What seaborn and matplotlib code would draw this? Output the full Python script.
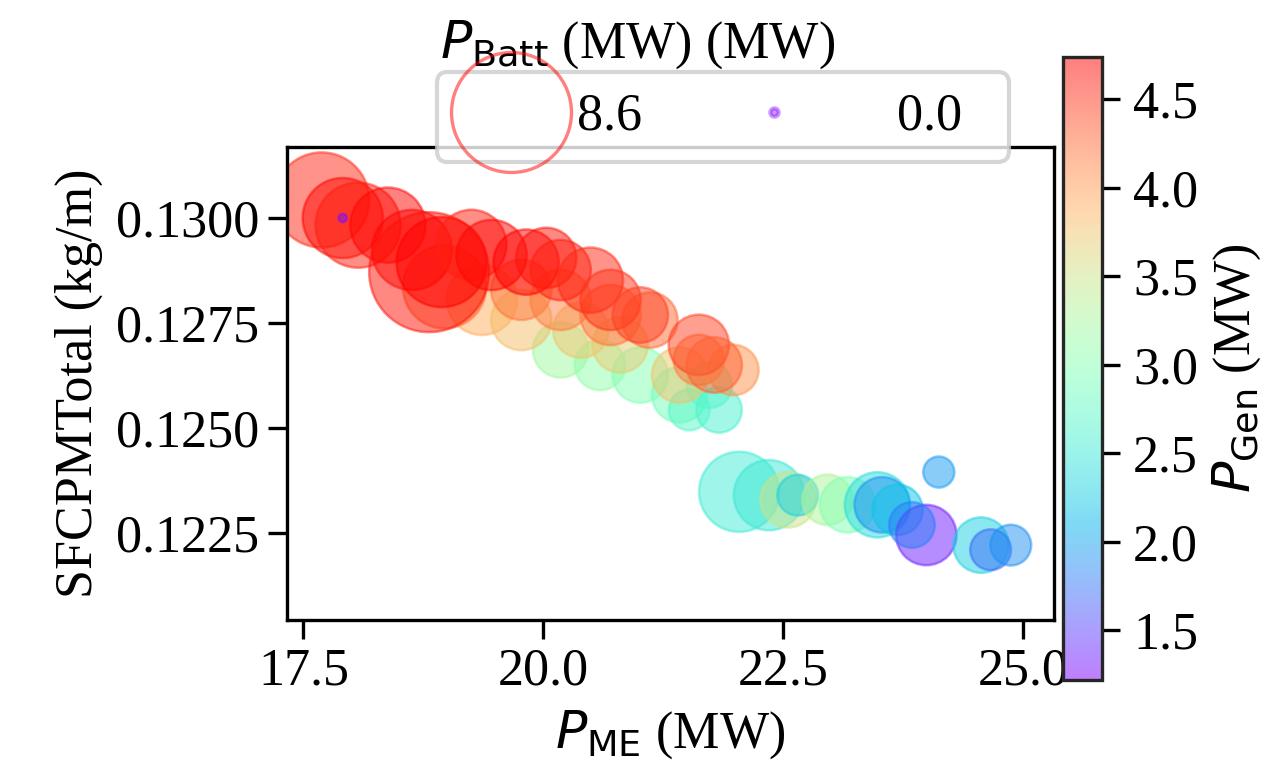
import numpy as np
import pandas as pd
import matplotlib
matplotlib.use("Agg")
import matplotlib.pyplot as plt
import seaborn as sns
from matplotlib.colors import Normalize
from matplotlib.cm import ScalarMappable
from matplotlib.lines import Line2D
from matplotlib.legend_handler import HandlerLine2D
from matplotlib.ticker import FormatStrFormatter, MultipleLocator

# main engine power (MW)
p_me = [
    22.04, 22.35, 22.55, 22.65, 22.96, 23.17, 23.48, 23.53, 23.69, 24.12,
    23.99, 23.84, 24.56, 24.66, 24.87,
    20.18, 20.59, 21.01, 21.42, 21.73, 21.83, 21.52,
    19.36, 19.77, 20.39, 20.80, 21.42,
    18.97, 19.77, 20.18, 20.70, 21.11, 21.62, 21.98,
    17.69, 17.91, 18.07, 18.38, 18.63, 18.81, 18.94, 19.25, 19.46, 19.82,
    20.03, 20.18, 20.49, 20.70, 21.01, 21.62, 21.78,
    17.91,
]
# fuel consumption per metre (kg/m)
sfc_total = [
    0.12348, 0.12340, 0.12329, 0.12340, 0.12329, 0.12317, 0.12317, 0.12317, 0.12305, 0.12395,
    0.12245, 0.12269, 0.12221, 0.12210, 0.12221,
    0.12686, 0.12650, 0.12626, 0.12579, 0.12602, 0.12543, 0.12543,
    0.12805, 0.12757, 0.12733, 0.12698, 0.12626,
    0.12836, 0.12829, 0.12805, 0.12769, 0.12757, 0.12662, 0.12638,
    0.13043, 0.13000, 0.12983, 0.12983, 0.12924, 0.12871, 0.12895, 0.12936, 0.12912, 0.12895,
    0.12905, 0.12876, 0.12852, 0.12805, 0.12769, 0.12698, 0.12650,
    0.13000,
]
# generator power (MW) -> colour
p_gen = [
    2.55, 2.50, 3.50, 2.30, 3.30, 3.00, 2.40, 1.90, 2.20, 1.95,
    1.35, 1.80, 2.30, 1.70, 1.90,
    3.20, 3.10, 3.00, 2.90, 2.80, 2.60, 2.70,
    3.90, 3.80, 3.75, 3.70, 3.75,
    4.25, 4.20, 4.15, 4.20, 4.25, 4.15, 4.05,
    4.55, 4.70, 4.60, 4.70, 4.70, 4.65, 4.75, 4.60, 4.70, 4.75,
    4.65, 4.60, 4.55, 4.50, 4.45, 4.45, 4.30,
    1.30,
]
# battery power (MW) -> bubble size
p_batt = [
    3.82, 2.93, 1.81, 0.96, 1.49, 1.81, 2.52, 1.81, 1.49, 0.54,
    2.15, 1.21, 1.81, 0.96, 0.96,
    1.81, 1.49, 1.81, 1.81, 1.21, 1.21, 0.96,
    2.93, 2.15, 1.81, 1.81, 1.81,
    4.11, 2.15, 2.15, 2.15, 1.81, 1.49, 1.49,
    5.39, 3.82, 4.31, 3.36, 3.82, 8.60, 4.84, 2.93, 2.93, 2.52,
    2.15, 2.15, 2.52, 2.15, 1.81, 2.15, 1.81,
    0.00,
]

df = pd.DataFrame({"p_me": p_me, "sfc": sfc_total, "p_gen": p_gen, "p_batt": p_batt})

gen_min, gen_max = 1.22, 4.74
batt_max = 8.6
size_range = (4, 829)
point_alpha = 0.5

sns.set_style("ticks")
plt.rcParams["font.family"] = ["Liberation Serif", "DejaVu Serif"]
plt.rcParams["font.size"] = 12.5
plt.rcParams["mathtext.fontset"] = "dejavusans"
for key in ["text.color", "axes.labelcolor", "xtick.color", "ytick.color"]:
    plt.rcParams[key] = "black"

fig = plt.figure(figsize=(12.76 / 3, 7.70 / 3), dpi=300)
ax = fig.add_axes([0.225, 0.195, 0.601, 0.614])
cax = fig.add_axes([0.833, 0.117, 0.031, 0.809])

sns.scatterplot(
    data=df, x="p_me", y="sfc",
    hue="p_gen", palette="rainbow", hue_norm=(gen_min, gen_max),
    size="p_batt", sizes=size_range, size_norm=(0, batt_max),
    alpha=point_alpha, edgecolor="face", linewidth=0.6,
    legend=False, ax=ax,
)

ax.set_xlim(17.33, 25.32)
ax.set_ylim(0.12043, 0.13169)
ax.xaxis.set_major_locator(MultipleLocator(2.5))
ax.yaxis.set_major_locator(MultipleLocator(0.0025))
ax.xaxis.set_major_formatter(FormatStrFormatter("%.1f"))
ax.yaxis.set_major_formatter(FormatStrFormatter("%.4f"))
ax.set_xlabel(r"$P_{\rm ME}$ (MW)", labelpad=3)
ax.set_ylabel("SFCPMTotal (kg/m)", labelpad=3)
for sp in ax.spines.values():
    sp.set_color("black")
    sp.set_linewidth(0.8)
ax.tick_params(colors="black", length=4.5, width=0.8, pad=2.2)

sm = ScalarMappable(norm=Normalize(gen_min, gen_max), cmap="rainbow")
cbar = fig.colorbar(sm, cax=cax, alpha=0.5)
cbar.set_ticks([1.5, 2.0, 2.5, 3.0, 3.5, 4.0, 4.5])
cbar.ax.yaxis.set_major_formatter(FormatStrFormatter("%.1f"))
cbar.set_label(r"$P_{\rm Gen}$ (MW)", labelpad=3)
cbar.outline.set_linewidth(0.8)
cbar.ax.tick_params(length=4.3, width=0.8, pad=3)

cmap = plt.get_cmap("rainbow")
h_big = Line2D([], [], linestyle="none", marker="o", markersize=np.sqrt(size_range[1]),
               markerfacecolor="none", markeredgecolor=cmap(1.0), markeredgewidth=0.8,
               alpha=0.5)
h_small = Line2D([], [], linestyle="none", marker="o", markersize=np.sqrt(size_range[0]),
                 markerfacecolor=cmap(0.0), markeredgecolor=cmap(0.0), alpha=0.4)
leg = fig.legend(
    [h_big, h_small], [f"{batt_max:.1f}", f"{0:.1f}  "],
    ncol=2, loc="center left", bbox_to_anchor=(437 / 1276, 1 - 117 / 770),
    bbox_transform=fig.transFigure, borderaxespad=0, frameon=True,
    handlelength=2.05, handletextpad=0.24, columnspacing=2.6, borderpad=0.4,
    handler_map={h_small: HandlerLine2D(numpoints=1, xpad=-2.2)},
)
leg.get_frame().set_edgecolor("#cccccc")
fig.text(440 / 1276, 1 - 45 / 770, r"$P_{\rm Batt}$ (MW) (MW)", ha="left", va="center")

fig.savefig("out.png", dpi=300, facecolor="white")
